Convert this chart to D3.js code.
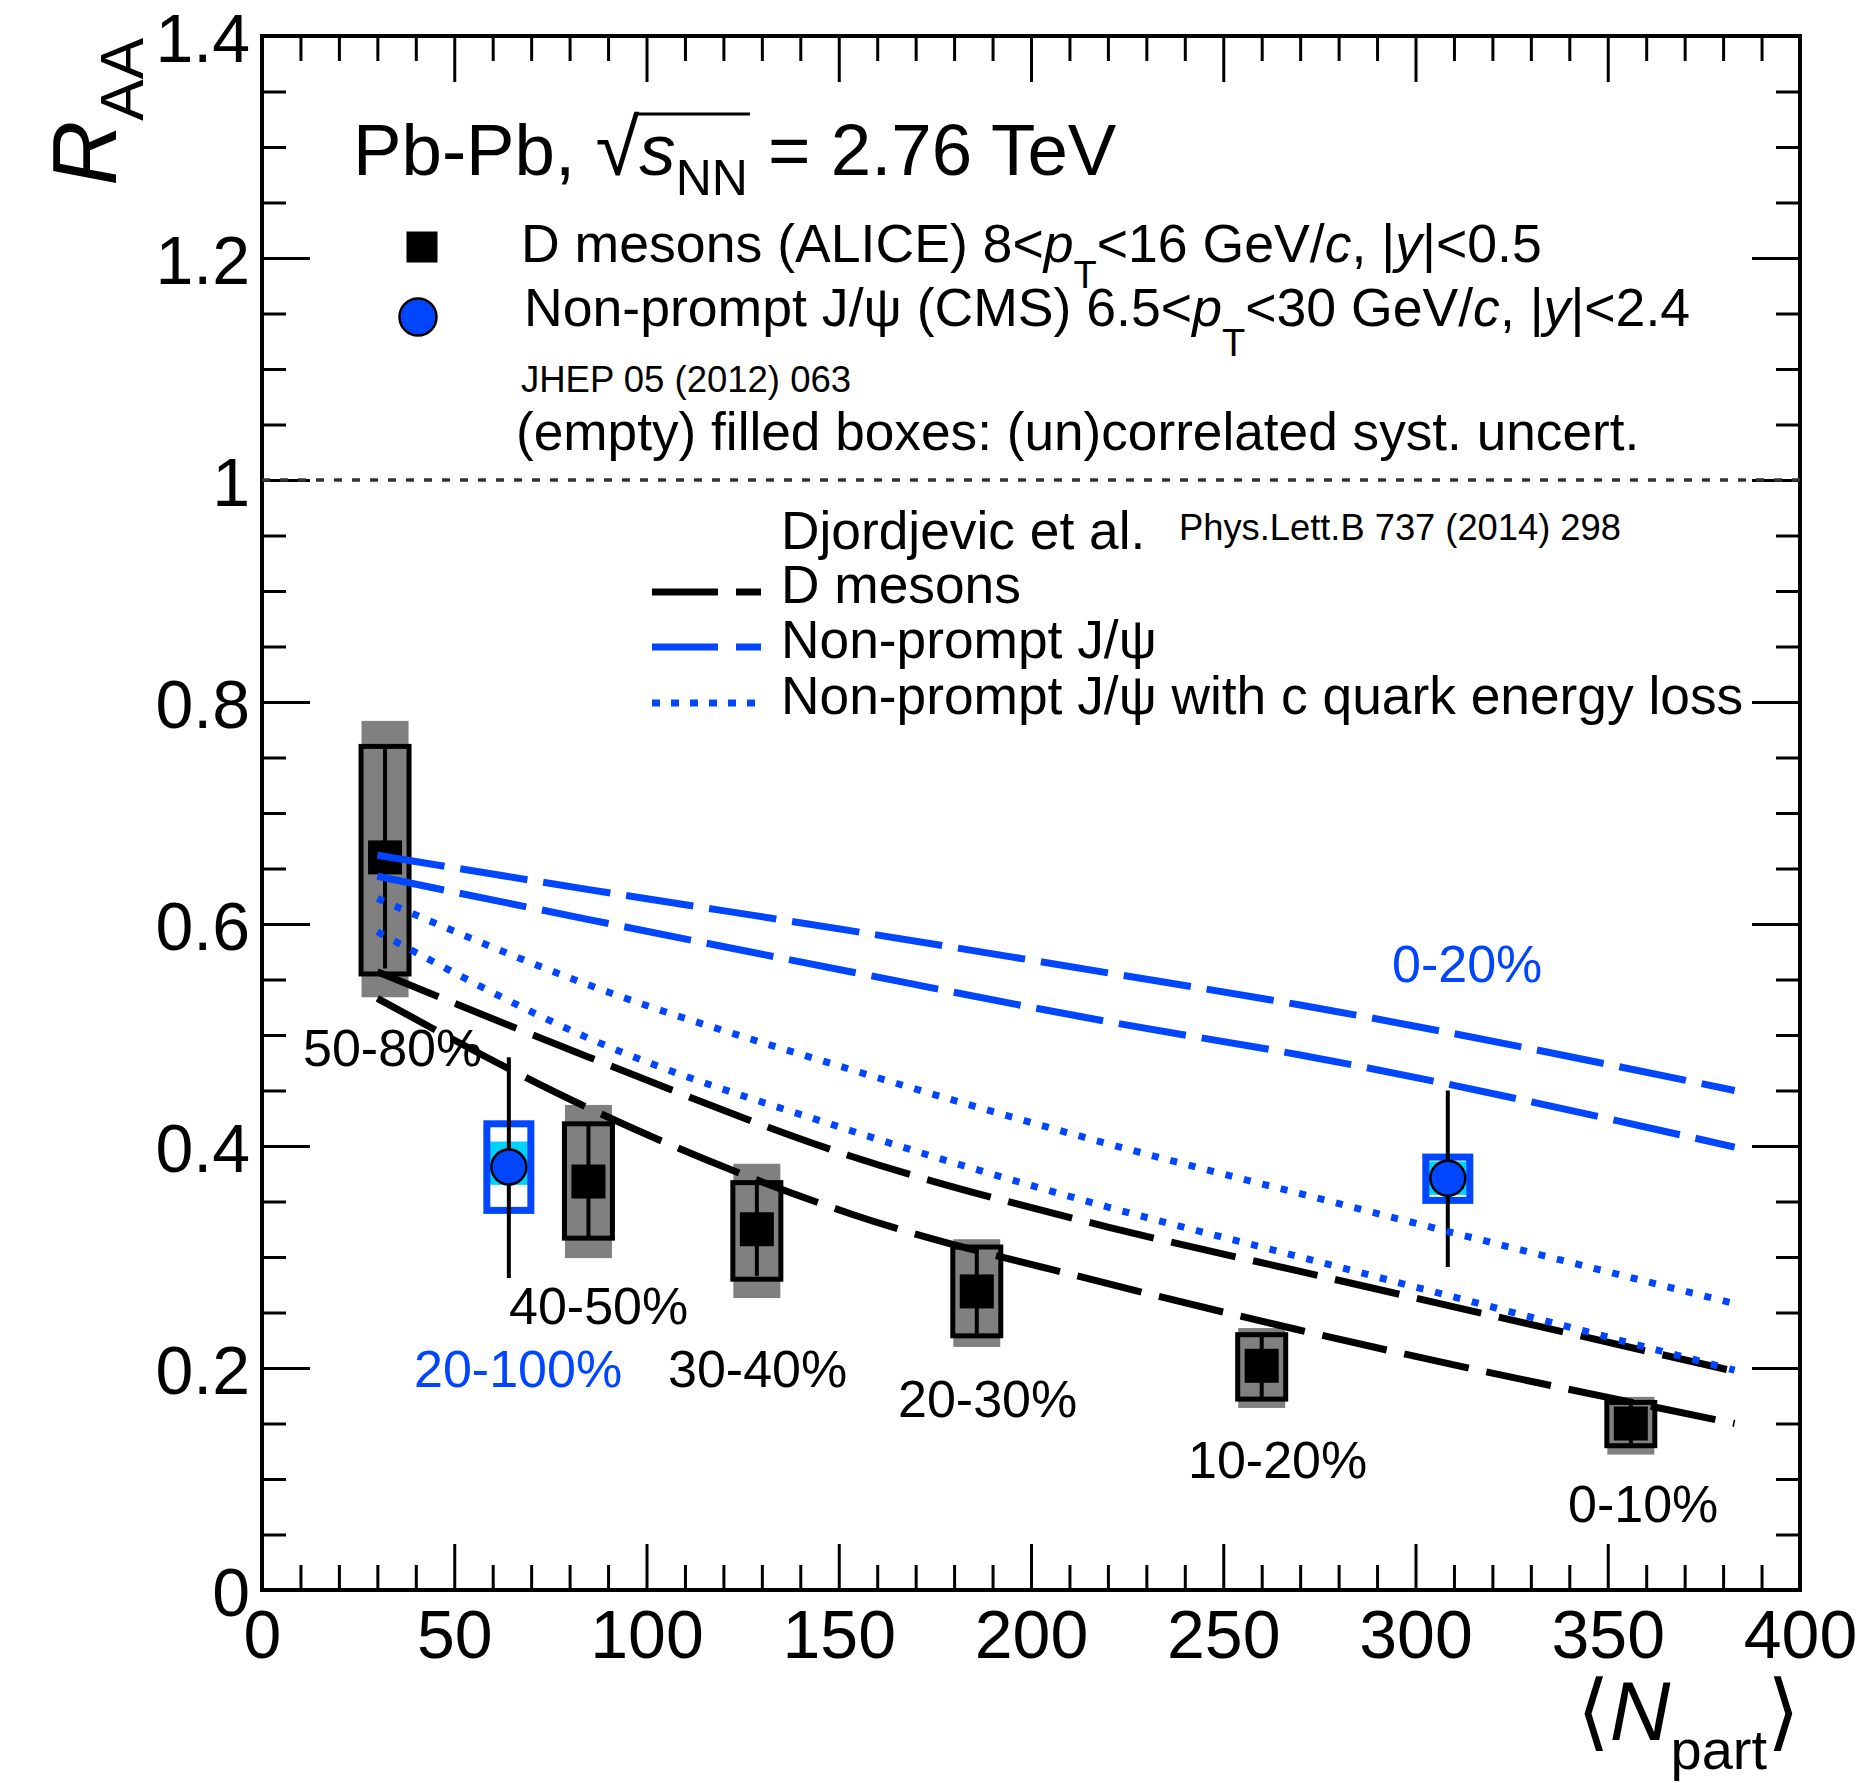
<!DOCTYPE html>
<html>
<head>
<meta charset="utf-8">
<script src="https://cdn.jsdelivr.net/npm/d3@7"></script>
<style>
  html, body { margin: 0; padding: 0; background: #fff; }
  svg { display: block; }
  text { font-family: "Liberation Sans", Arial, Helvetica, sans-serif; fill: #000; }
</style>
</head>
<body>
<svg id="chart" width="1865" height="1783"></svg>
<script>
// ---------------- DATA ----------------
// ALICE D mesons
const dCentrality = ["50-80%", "40-50%", "30-40%", "20-30%", "10-20%", "0-10%"];
const dNpart      = [32.0, 84.9, 128.7, 185.9, 260.0, 356.0];
const dRaa        = [0.660, 0.368, 0.325, 0.269, 0.202, 0.150];
const dStat       = [0.100, 0.050, 0.042, 0.038, 0.028, 0.018];
const dUncorrLo   = [0.105, 0.051, 0.045, 0.040, 0.030, 0.020];
const dUncorrHi   = [0.100, 0.052, 0.042, 0.040, 0.028, 0.019];
const dCorrLo     = [0.126, 0.069, 0.062, 0.050, 0.038, 0.028];
const dCorrHi     = [0.123, 0.069, 0.059, 0.047, 0.034, 0.024];

// CMS non-prompt J/psi
const jCentrality = ["20-100%", "0-20%"];
const jNpart      = [64.2, 308.4];
const jRaa        = [0.381, 0.371];
const jStatLo     = [0.100, 0.080];
const jStatHi     = [0.099, 0.079];
const jUncorrLo   = [0.039, 0.020];
const jUncorrHi   = [0.039, 0.019];
const jCorrLo     = [0.016, 0.015];
const jCorrHi     = [0.023, 0.015];

// Djordjevic et al. model bands (lower / upper edges)
const modelNpart      = [30, 85, 153, 220, 270, 383];
const dMesonUpper     = [0.557, 0.480, 0.391, 0.327, 0.287, 0.197];
const dMesonLower     = [0.533, 0.434, 0.339, 0.276, 0.234, 0.150];
const npJpsiUpper     = [0.662, 0.631, 0.594, 0.556, 0.527, 0.450];
const npJpsiLower     = [0.643, 0.604, 0.557, 0.512, 0.482, 0.399];
const npJpsiCUpper    = [0.623, 0.545, 0.469, 0.402, 0.357, 0.258];
const npJpsiCLower    = [0.593, 0.497, 0.414, 0.345, 0.300, 0.198];

// Axis ticks
const xTickValues = [0, 50, 100, 150, 200, 250, 300, 350, 400];
const xTickLabels = ["0", "50", "100", "150", "200", "250", "300", "350", "400"];
const yTickValues = [0, 0.2, 0.4, 0.6, 0.8, 1.0, 1.2, 1.4];
const yTickLabels = ["0", "0.2", "0.4", "0.6", "0.8", "1", "1.2", "1.4"];

// ---------------- LAYOUT ----------------
const BLUE = "#0046ff";
const CYAN = "#00d2ff";
const GRAY = "#808080";
const FONT = "\"Liberation Sans\", Arial, Helvetica, sans-serif";

const svg = d3.select("#chart");
const x = d3.scaleLinear().domain([0, 400]).range([262, 1800]);
const y = d3.scaleLinear().domain([0, 1.4]).range([1590, 36]);

const gAxes = svg.append("g");

const xMinor = d3.range(0, 401, 10).filter(v => v % 50 !== 0);
const yMinor = d3.range(0, 1.4001, 0.05).map(v => +v.toFixed(2)).filter(v => Math.abs(v / 0.2 - Math.round(v / 0.2)) > 1e-6);

function styleAxis(g) {
  g.select(".domain").remove();
  g.selectAll(".tick line").attr("stroke", "#000").attr("stroke-width", 3);
  g.selectAll("text").attr("font-family", FONT);
}

// bottom
gAxes.append("g").attr("transform", "translate(0,1590)")
  .call(d3.axisBottom(x).tickValues(xTickValues).tickSize(-46).tickSizeOuter(0).tickPadding(20)
        .tickFormat((d, i) => xTickLabels[i]))
  .call(styleAxis)
  .call(g => g.selectAll("text").attr("font-size", 68).attr("fill", "#000"));
gAxes.append("g").attr("transform", "translate(0,1590)")
  .call(d3.axisBottom(x).tickValues(xMinor).tickSize(-25).tickSizeOuter(0).tickFormat(""))
  .call(styleAxis);
// top
gAxes.append("g").attr("transform", "translate(0,36)")
  .call(d3.axisTop(x).tickValues(xTickValues).tickSize(-46).tickSizeOuter(0).tickFormat(""))
  .call(styleAxis);
gAxes.append("g").attr("transform", "translate(0,36)")
  .call(d3.axisTop(x).tickValues(xMinor).tickSize(-25).tickSizeOuter(0).tickFormat(""))
  .call(styleAxis);
// left
gAxes.append("g").attr("transform", "translate(262,0)")
  .call(d3.axisLeft(y).tickValues(yTickValues).tickSize(-48).tickSizeOuter(0).tickPadding(12)
        .tickFormat((d, i) => yTickLabels[i]))
  .call(styleAxis)
  .call(g => g.selectAll("text").attr("font-size", 68).attr("dy", "0.37em").attr("fill", "#000"));
gAxes.append("g").attr("transform", "translate(262,0)")
  .call(d3.axisLeft(y).tickValues(yMinor).tickSize(-24).tickSizeOuter(0).tickFormat(""))
  .call(styleAxis);
// right
gAxes.append("g").attr("transform", "translate(1800,0)")
  .call(d3.axisRight(y).tickValues(yTickValues).tickSize(-48).tickSizeOuter(0).tickFormat(""))
  .call(styleAxis);
gAxes.append("g").attr("transform", "translate(1800,0)")
  .call(d3.axisRight(y).tickValues(yMinor).tickSize(-24).tickSizeOuter(0).tickFormat(""))
  .call(styleAxis);

// frame
svg.append("rect").attr("x", x(0)).attr("y", y(1.4))
  .attr("width", x(400) - x(0)).attr("height", y(0) - y(1.4))
  .attr("fill", "none").attr("stroke", "#000").attr("stroke-width", 4);

// reference line at 1
svg.append("line").attr("x1", x(0)).attr("x2", x(400)).attr("y1", y(1)).attr("y2", y(1))
  .attr("stroke", "#333").attr("stroke-width", 3.5).attr("stroke-dasharray", "8,10");

// ---------------- D meson points ----------------
const boxW = 48;
const gD = svg.append("g");
dNpart.forEach((n, i) => {
  const cx = x(n);
  gD.append("rect").attr("x", cx - 23.5).attr("width", 47)
    .attr("y", y(dRaa[i] + dCorrHi[i])).attr("height", y(dRaa[i] - dCorrLo[i]) - y(dRaa[i] + dCorrHi[i]))
    .attr("fill", GRAY);
  gD.append("line").attr("x1", cx).attr("x2", cx)
    .attr("y1", y(dRaa[i] + dStat[i])).attr("y2", y(dRaa[i] - dStat[i]))
    .attr("stroke", "#000").attr("stroke-width", 4);
  gD.append("rect").attr("x", cx - boxW / 2).attr("width", boxW)
    .attr("y", y(dRaa[i] + dUncorrHi[i])).attr("height", y(dRaa[i] - dUncorrLo[i]) - y(dRaa[i] + dUncorrHi[i]))
    .attr("fill", "none").attr("stroke", "#000").attr("stroke-width", 5);
  gD.append("rect").attr("x", cx - 17).attr("y", y(dRaa[i]) - 17).attr("width", 34).attr("height", 34)
    .attr("fill", "#000");
});

// ---------------- J/psi points ----------------
const gJ = svg.append("g");
jNpart.forEach((n, i) => {
  const cx = x(n);
  gJ.append("rect").attr("x", cx - 22).attr("width", 44)
    .attr("y", y(jRaa[i] + jCorrHi[i])).attr("height", y(jRaa[i] - jCorrLo[i]) - y(jRaa[i] + jCorrHi[i]))
    .attr("fill", CYAN);
  gJ.append("rect").attr("x", cx - 22).attr("width", 44)
    .attr("y", y(jRaa[i] + jUncorrHi[i])).attr("height", y(jRaa[i] - jUncorrLo[i]) - y(jRaa[i] + jUncorrHi[i]))
    .attr("fill", "none").attr("stroke", BLUE).attr("stroke-width", 7);
  gJ.append("line").attr("x1", cx).attr("x2", cx)
    .attr("y1", y(jRaa[i] + jStatHi[i])).attr("y2", y(jRaa[i] - jStatLo[i]))
    .attr("stroke", "#000").attr("stroke-width", 4);
  gJ.append("circle").attr("cx", cx).attr("cy", y(jRaa[i])).attr("r", 17.5)
    .attr("fill", BLUE).attr("stroke", "#000").attr("stroke-width", 2.5);
});

// ---------------- Model curves ----------------
const line = d3.line().x(d => x(d[0])).y(d => y(d[1])).curve(d3.curveMonotoneX);
const curves = [
  { vals: dMesonUpper,  color: "#000", dash: "66,18" },
  { vals: dMesonLower,  color: "#000", dash: "66,18" },
  { vals: npJpsiUpper,  color: BLUE,   dash: "68,16" },
  { vals: npJpsiLower,  color: BLUE,   dash: "68,16" },
  { vals: npJpsiCUpper, color: BLUE,   dash: "7,12" },
  { vals: npJpsiCLower, color: BLUE,   dash: "7,12" }
];
const gC = svg.append("g");
curves.forEach(c => {
  gC.append("path").datum(modelNpart.map((n, i) => [n, c.vals[i]]))
    .attr("d", line).attr("fill", "none").attr("stroke", c.color)
    .attr("stroke-width", 7).attr("stroke-dasharray", c.dash).attr("stroke-linecap", "butt");
});

// ---------------- Centrality labels ----------------
const dLabelPos = [[303, 1066], [509, 1324], [668, 1387], [898, 1417], [1188, 1478], [1568, 1522]];
const jLabelPos = [[414, 1387], [1392, 982]];
dCentrality.forEach((t, i) => {
  svg.append("text").attr("x", dLabelPos[i][0]).attr("y", dLabelPos[i][1])
    .attr("font-size", 52).text(t);
});
jCentrality.forEach((t, i) => {
  svg.append("text").attr("x", jLabelPos[i][0]).attr("y", jLabelPos[i][1])
    .attr("font-size", 52).style("fill", BLUE).text(t);
});

// ---------------- Header text ----------------
function rich(xp, yp, size, parts) {
  const t = svg.append("text").attr("x", xp).attr("y", yp).attr("font-size", size);
  parts.forEach(p => {
    const s = t.append("tspan").text(p.t);
    if (p.i) s.attr("font-style", "italic");
    if (p.s) s.attr("font-size", p.s);
    if (p.dy) s.attr("dy", p.dy);
  });
  return t;
}

const header = rich(353, 175, 72.7, [
  { t: "Pb-Pb, " }, { t: "\u221A", s: 80 }, { t: "s", i: true }, { t: "NN", s: 50, dy: 20 }, { t: " = 2.76 TeV", dy: -20 }
]);
{
  const node = header.node();
  const x1 = node.getEndPositionOfChar(7).x;
  const x2 = node.getEndPositionOfChar(10).x;
  svg.append("line").attr("x1", x1 - 3).attr("x2", x2 + 2).attr("y1", 114).attr("y2", 114)
    .attr("stroke", "#000").attr("stroke-width", 3);
}

// data legend
svg.append("rect").attr("x", 422 - 15.5).attr("y", 247 - 15.5).attr("width", 31).attr("height", 31).attr("fill", "#000");
rich(521, 262, 53.6, [
  { t: "D mesons (ALICE) 8<" }, { t: "p", i: true }, { t: "T", s: 38, dy: 26 }, { t: "<16 GeV/", dy: -26 },
  { t: "c", i: true }, { t: ", |" }, { t: "y", i: true }, { t: "|<0.5" }
]);
svg.append("circle").attr("cx", 418).attr("cy", 317).attr("r", 18.5)
  .attr("fill", BLUE).attr("stroke", "#000").attr("stroke-width", 2.5);
rich(524, 326, 53.6, [
  { t: "Non-prompt J/\u03C8 (CMS) 6.5<" }, { t: "p", i: true }, { t: "T", s: 38, dy: 30 }, { t: "<30 GeV/", dy: -30 },
  { t: "c", i: true }, { t: ", |" }, { t: "y", i: true }, { t: "|<2.4" }
]);
svg.append("text").attr("x", 521).attr("y", 392).attr("font-size", 36.5).text("JHEP 05 (2012) 063");
svg.append("text").attr("x", 516).attr("y", 450).attr("font-size", 53.2)
  .text("(empty) filled boxes: (un)correlated syst. uncert.");

// model legend
svg.append("text").attr("x", 781).attr("y", 549).attr("font-size", 53.3).text("Djordjevic et al.");
svg.append("text").attr("x", 1179).attr("y", 540).attr("font-size", 36.3).text("Phys.Lett.B 737 (2014) 298");
const modelLegend = [
  { label: "D mesons", color: "#000", dash: "66,18", ly: 592, ty: 603 },
  { label: "Non-prompt J/\u03C8", color: BLUE, dash: "66,18", ly: 647, ty: 658 },
  { label: "Non-prompt J/\u03C8 with c quark energy loss", color: BLUE, dash: "8,11", ly: 703, ty: 714 }
];
modelLegend.forEach(m => {
  svg.append("line").attr("x1", 652).attr("x2", 761).attr("y1", m.ly).attr("y2", m.ly)
    .attr("stroke", m.color).attr("stroke-width", 7).attr("stroke-dasharray", m.dash);
  svg.append("text").attr("x", 781).attr("y", m.ty).attr("font-size", 53.3).text(m.label);
});

// ---------------- Axis titles ----------------
const yt = svg.append("text").attr("transform", "translate(116,38) rotate(-90)")
  .attr("text-anchor", "end").attr("font-size", 90);
yt.append("tspan").attr("font-style", "italic").text("R");
yt.append("tspan").attr("font-size", 62).attr("dy", 27).text("AA");

const xt = svg.append("text").attr("x", 1800).attr("y", 1740).attr("text-anchor", "end").attr("font-size", 84);
xt.append("tspan").attr("font-family", "DejaVu Sans").attr("font-weight", 200).text("\u27E8");
xt.append("tspan").attr("font-style", "italic").text("N");
xt.append("tspan").attr("font-size", 56).attr("dy", 29).text("part");
xt.append("tspan").attr("font-family", "DejaVu Sans").attr("font-weight", 200).attr("dy", -29).text("\u27E9");
</script>
</body>
</html>
